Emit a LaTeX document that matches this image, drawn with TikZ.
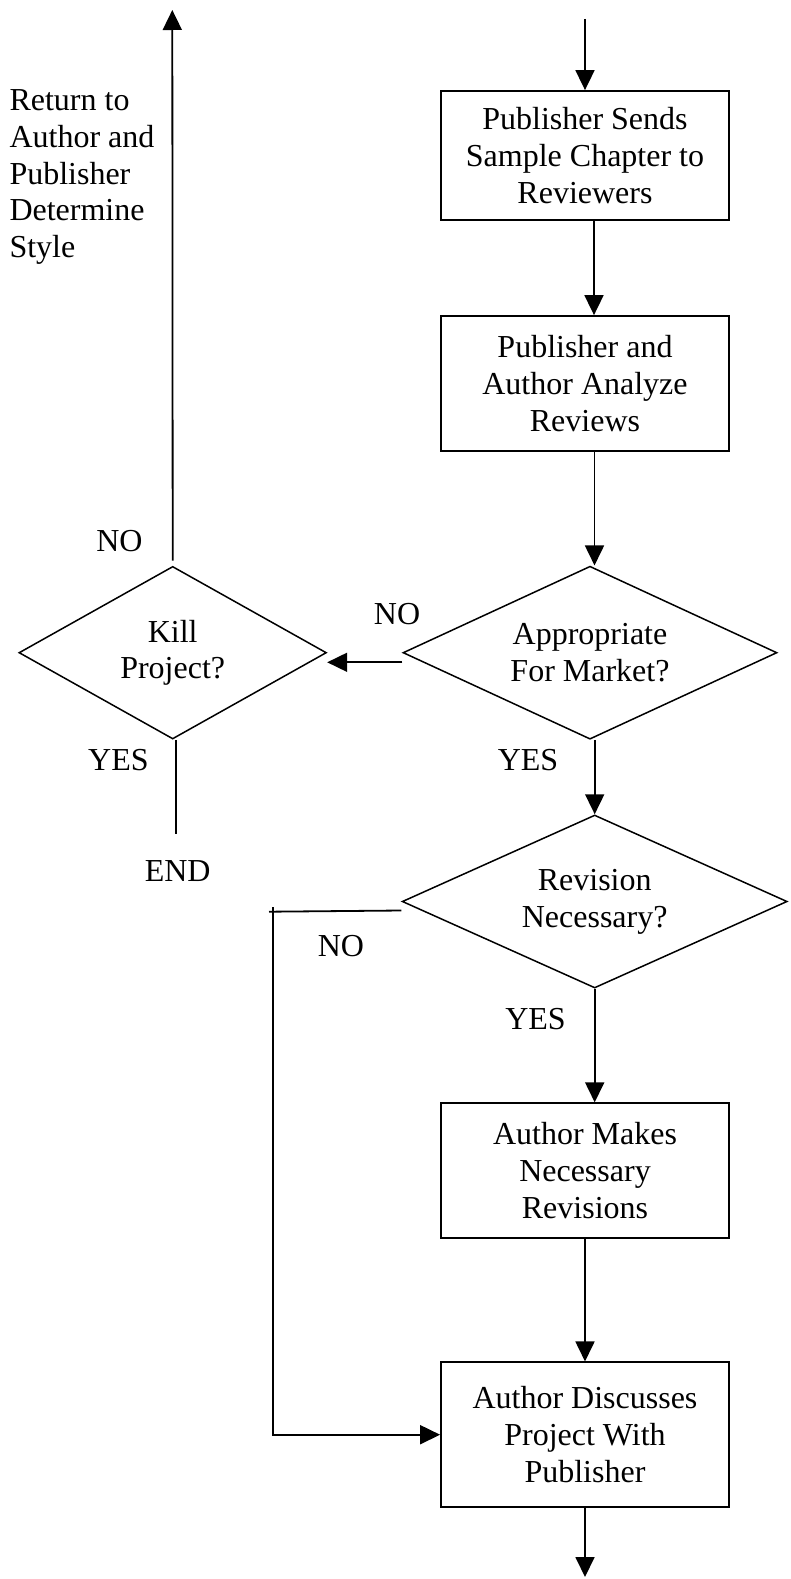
\documentclass[tikz,border=0pt]{standalone}
\usepackage{fontspec}
\setmainfont{Liberation Serif}
\usetikzlibrary{arrows.meta,shapes.geometric}
\begin{document}
\begin{tikzpicture}[x=1pt,y=1pt,
  every node/.style={font=\fontsize{32}{36.7}\selectfont, inner sep=0pt},
  stepbox/.style={draw, line width=1.8pt, minimum width=288pt, align=center},
  decision/.style={draw, diamond, line width=1.5pt, align=center},
  arr/.style={line width=1.8pt, -{Triangle[length=20pt,width=19pt]}},
  ln/.style={line width=1.8pt},
  lbl/.style={anchor=base}]
\useasboundingbox (0,0) rectangle (790,-1579);

\node[stepbox, minimum height=129pt] (b1) at (585,-155.5) {Publisher Sends\\Sample Chapter to\\Reviewers};
\node[stepbox, minimum height=135pt] (b2) at (585,-383.5) {Publisher and\\Author Analyze\\Reviews};
\node[decision, aspect=2.16, minimum width=374pt, minimum height=173pt] (app) at (590,-652.7) {Appropriate\\For Market?};
\node[decision, aspect=1.78, minimum width=307.5pt, minimum height=172.6pt] (kill) at (172.7,-652.7) {Kill\\Project?};
\node[decision, aspect=2.23, minimum width=385pt, minimum height=173pt] (rev) at (594.7,-901.5) {Revision\\Necessary?};
\node[stepbox, minimum height=134.5pt] (b3) at (585,-1170.5) {Author Makes\\Necessary\\Revisions};
\node[stepbox, minimum height=144.7pt] (b4) at (585,-1434.7) {Author Discusses\\Project With\\Publisher};

\node[anchor=north west, align=left] (ret) at (9.3,-89.5) {Return to\\Author and\\Publisher\\Determine\\Style};

\node[lbl] (no1) at (119.5,-551.7) {NO};
\node[lbl] (no2) at (397,-624) {NO};
\node[lbl] (yes1) at (118.4,-770.7) {YES};
\node[lbl] (yes2) at (528,-770.7) {YES};
\node[lbl] (endn) at (177.7,-881.7) {END};
\node[lbl] (no3) at (341,-956) {NO};
\node[lbl] (yes3) at (535.5,-1029.3) {YES};

\coordinate (in) at (585,-19);
\coordinate (up) at (172.3,-10);
\coordinate (endline) at (176.3,-834.3);
\coordinate (corner) at (273,-911.7);
\coordinate (out) at (585,-1577);

\draw[arr] (in) -- (b1.north);
\draw[arr] ([xshift=9pt]b1.south) -- ([xshift=9pt]b2.north);
\draw[arr] ([xshift=9.5pt]b2.south) -- ([xshift=4.5pt]app.north);
\draw[arr] ([xshift=4.7pt]app.south) -- (rev.north);
\draw[arr] (rev.south) -- ([xshift=9.7pt]b3.north);
\draw[arr] (b3.south) -- (b4.north);
\draw[arr] (b4.south) -- (out);
\draw[arr] ([yshift=-9.6pt]app.west) -- ([yshift=-9.6pt]kill.east);
\draw[arr] ([yshift=5pt]kill.north) -- (up);
\draw[ln] ([xshift=3.6pt]kill.south) -- (endline);
\draw[ln] ([yshift=-9pt]rev.west) -- ([xshift=-4pt]corner);
\draw[arr] ([yshift=4.5pt]corner) |- (b4.west);
\end{tikzpicture}
\end{document}
